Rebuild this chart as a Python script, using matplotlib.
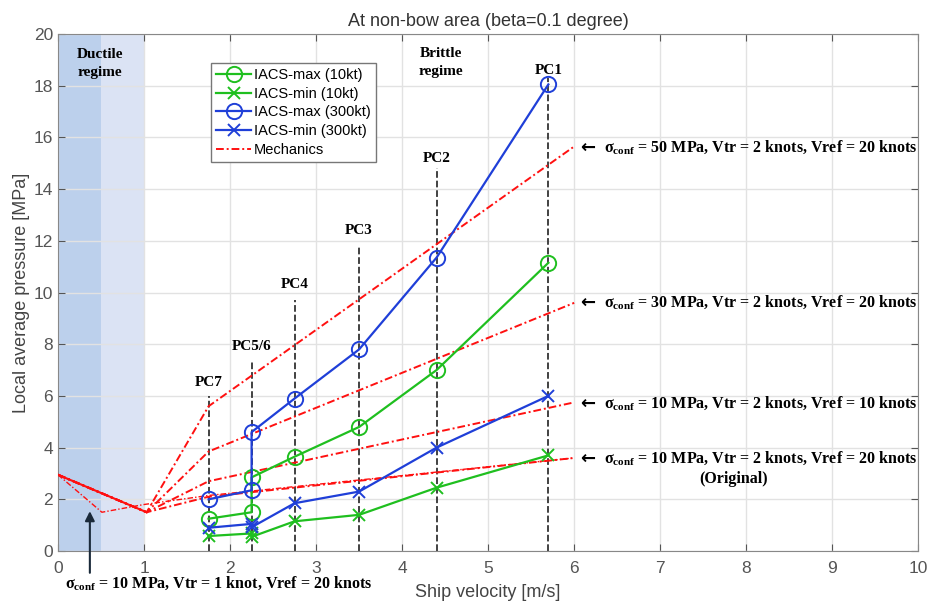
import numpy as np
import matplotlib
matplotlib.use('Agg')
import matplotlib.pyplot as plt

plt.rcParams['font.family'] = ['Liberation Sans', 'DejaVu Sans']
plt.rcParams['mathtext.fontset'] = 'custom'
plt.rcParams['mathtext.rm'] = 'Liberation Serif'
plt.rcParams['mathtext.bf'] = 'Liberation Serif:bold'

# ship velocity of each PC class [m/s]
pc_names = ['PC7', 'PC5/6', 'PC4', 'PC3', 'PC2', 'PC1']
pc_v = [1.75, 2.25, 2.75, 3.5, 4.4, 5.7]
pc_line_top = [6.0, 7.4, 9.7, 11.8, 14.8, 18.3]
pc_label_y = [6.5, 7.9, 10.3, 12.4, 15.2, 18.6]

# IACS results
v_iacs = [1.75, 2.25, 2.25, 2.75, 3.5, 4.4, 5.7]
max_10kt = [1.25, 1.5, 2.85, 3.65, 4.8, 7.0, 11.15]
min_10kt = [0.58, 0.68, 0.55, 1.15, 1.4, 2.45, 3.7]
max_300kt = [2.0, 2.35, 4.6, 5.9, 7.8, 11.35, 18.05]
min_300kt = [0.9, 1.05, 0.92, 1.85, 2.3, 4.0, 6.0]

# mechanics curves
v_mech = [0, 1.03, 1.75, 6.0]
mech_50 = [2.95, 1.5, 5.6, 15.65]
mech_30 = [2.95, 1.5, 3.85, 9.6]
mech_10_v10 = [2.95, 1.5, 2.7, 5.75]
mech_10_v20 = [2.95, 1.5, 2.1, 3.6]
v_mech_tr1 = [0, 0.51, 1.0, 1.75, 6.0]
mech_tr1 = [2.95, 1.5, 1.8, 2.15, 3.6]

labels_y = [15.6, 9.6, 5.7, 3.55]
labels_txt = ['50 MPa, Vtr = 2 knots, Vref = 20 knots',
              '30 MPa, Vtr = 2 knots, Vref = 20 knots',
              '10 MPa, Vtr = 2 knots, Vref = 10 knots',
              '10 MPa, Vtr = 2 knots, Vref = 20 knots']

green = '#1fbf1f'
blue = '#1f3fd8'
red = '#ff1010'
dd = (0, (4, 1.5, 1, 1.5))

fig = plt.figure(figsize=(9.3, 6.04), dpi=100)
ax = fig.add_axes([0.0624, 0.0877, 0.925, 0.856])

ax.axvspan(0, 0.5, color='#bcd0ec', lw=0, zorder=0)
ax.axvspan(0.5, 1.0, color='#dbe3f4', lw=0, zorder=0)

for v, top, lab, ly in zip(pc_v, pc_line_top, pc_names, pc_label_y):
    ax.plot([v, v], [0, top], ls='--', color='#333333', lw=1.3, zorder=2)
    ax.text(v, ly, lab, ha='center', va='center', family='Liberation Serif',
            fontweight='bold', fontsize=11)

ax.plot(v_iacs, max_10kt, '-o', color=green, ms=11, mfc='none', mew=1.4, lw=1.6, label='IACS-max (10kt)', zorder=4)
ax.plot(v_iacs, min_10kt, '-x', color=green, ms=8, mew=1.4, lw=1.6, label='IACS-min (10kt)', zorder=4)
ax.plot(v_iacs, max_300kt, '-o', color=blue, ms=11, mfc='none', mew=1.4, lw=1.6, label='IACS-max (300kt)', zorder=4)
ax.plot(v_iacs, min_300kt, '-x', color=blue, ms=8, mew=1.4, lw=1.6, label='IACS-min (300kt)', zorder=4)

ax.plot(v_mech[:2], mech_50[:2], '-', color=red, lw=1.5, zorder=3)
ax.plot(v_mech, mech_50, ls=dd, color=red, lw=1.4, label='Mechanics', zorder=3)
ax.plot(v_mech, mech_30, ls=dd, color=red, lw=1.4, zorder=3)
ax.plot(v_mech, mech_10_v10, ls=dd, color=red, lw=1.4, zorder=3)
ax.plot(v_mech, mech_10_v20, ls=dd, color=red, lw=1.4, zorder=3)
ax.plot(v_mech_tr1, mech_tr1, ls=dd, color=red, lw=1.0, zorder=3)

for y, t in zip(labels_y, labels_txt):
    ax.text(6.08, y, '\u2190 ', ha='left', va='center', fontsize=13,
            family=['DejaVu Sans'], fontweight='bold')
    ax.text(6.35, y, r'σ$_{\mathbf{conf}}$ = ' + t, ha='left', va='center',
            family='Liberation Serif', fontweight='bold', fontsize=11.5)
ax.text(7.85, 2.8, '(Original)', ha='center', va='center',
        family='Liberation Serif', fontweight='bold', fontsize=11.5)

ax.annotate('', xy=(0.37, 1.65), xytext=(0.37, -0.95),
            arrowprops=dict(arrowstyle='-|>', color='#1a2a3a', lw=1.5, mutation_scale=14),
            annotation_clip=False)
ax.text(0.08, -1.27, r'σ$_{\mathbf{conf}}$ = 10 MPa, Vtr = 1 knot, Vref = 20 knots',
        ha='left', va='center', family='Liberation Serif', fontweight='bold', fontsize=11.5)

ax.text(0.49, 18.85, 'Ductile\nregime', ha='center', va='center', family='Liberation Serif',
        fontweight='bold', fontsize=11, linespacing=1.5)
ax.text(4.45, 18.9, 'Brittle\nregime', ha='center', va='center', family='Liberation Serif',
        fontweight='bold', fontsize=11, linespacing=1.5)

ax.set_xlim(0, 10)
ax.set_ylim(0, 20)
ax.set_xticks(range(0, 11))
ax.set_yticks(range(0, 21, 2))
ax.grid(True, color='#e2e2e2', lw=1.0)
ax.set_axisbelow(True)
ax.tick_params(direction='in', top=True, right=True, labelsize=12.5, colors='#555555', length=5)
ax.tick_params(axis='x', pad=7)
for s in ax.spines.values():
    s.set_color('#888888')

ax.set_title('At non-bow area (beta=0.1 degree)', fontsize=13, color='#333333', pad=6)
ax.set_xlabel('Ship velocity [m/s]', fontsize=13, color='#444444', labelpad=6)
ax.set_ylabel('Local average pressure [MPa]', fontsize=13, color='#444444', labelpad=3)

leg = ax.legend(loc='upper left', bbox_to_anchor=(0.178, 0.944), fontsize=10.5,
                fancybox=False, framealpha=1, edgecolor='#777777', borderaxespad=0,
                handlelength=2.4, borderpad=0.35, labelspacing=0.32, handletextpad=0.2)

fig.savefig('out.png', dpi=100)
